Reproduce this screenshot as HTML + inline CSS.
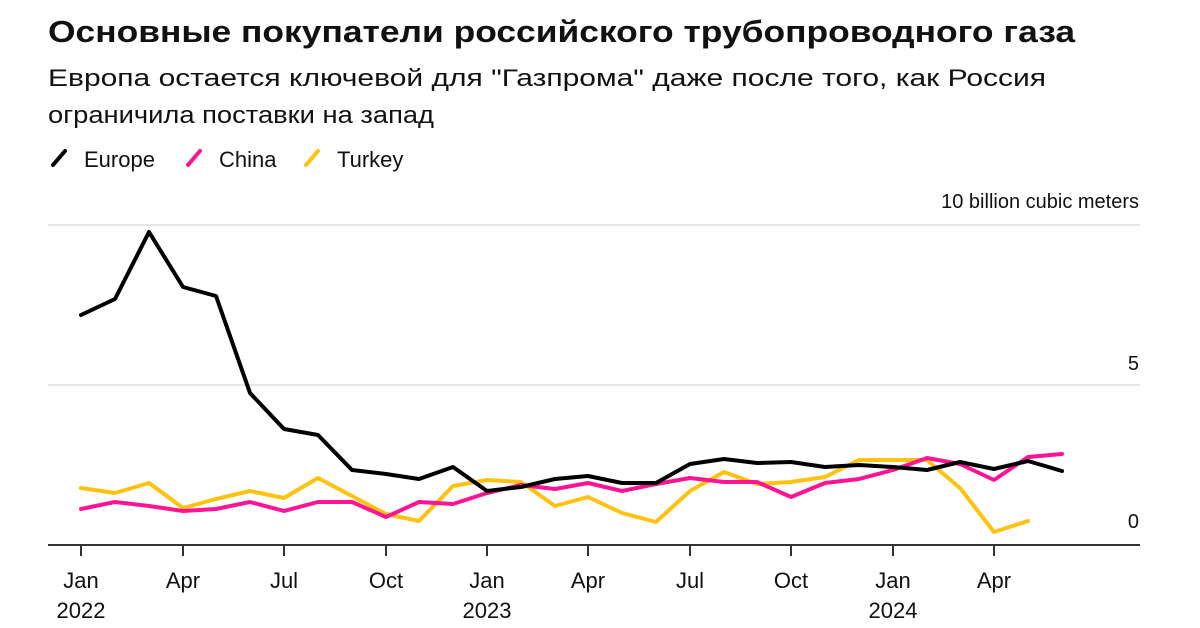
<!DOCTYPE html>
<html><head><meta charset="utf-8"><style>
html,body{margin:0;padding:0;background:#fff;width:1200px;height:628px;overflow:hidden}
svg text{font-family:"Liberation Sans",Arial,sans-serif;fill:#111}
</style></head><body>
<svg width="1200" height="628" viewBox="0 0 1200 628" xmlns="http://www.w3.org/2000/svg">
<text x="48" y="42" font-size="31" font-weight="bold" textLength="1027" lengthAdjust="spacingAndGlyphs">Основные покупатели российского трубопроводного газа</text>
<text x="48" y="86" font-size="24" fill="#222" textLength="998" lengthAdjust="spacingAndGlyphs">Европа остается ключевой для "Газпрома" даже после того, как Россия</text>
<text x="48" y="123" font-size="24" textLength="386" lengthAdjust="spacingAndGlyphs">ограничила поставки на запад</text>
<g stroke-width="4" stroke-linecap="round">
<line x1="53" y1="165" x2="65" y2="151" stroke="#000"/>
<line x1="188" y1="165" x2="200" y2="151" stroke="#ff1493"/>
<line x1="306" y1="165" x2="318" y2="151" stroke="#ffc20e"/>
</g>
<text x="84" y="167" font-size="22">Europe</text>
<text x="219" y="167" font-size="22">China</text>
<text x="337" y="167" font-size="22">Turkey</text>
<text x="1139" y="208" font-size="20" text-anchor="end">10 billion cubic meters</text>
<line x1="48" y1="225" x2="1140" y2="225" stroke="#ccc" stroke-width="1"/>
<line x1="48" y1="385" x2="1140" y2="385" stroke="#ccc" stroke-width="1"/>
<text x="1139" y="370" font-size="20" text-anchor="end">5</text>
<text x="1139" y="528" font-size="20" text-anchor="end">0</text>
<line x1="48" y1="545" x2="1140" y2="545" stroke="#333" stroke-width="2"/>
<g stroke="#333" stroke-width="2">
<line x1="81" y1="545" x2="81" y2="556"/><line x1="183" y1="545" x2="183" y2="556"/><line x1="284" y1="545" x2="284" y2="556"/><line x1="386" y1="545" x2="386" y2="556"/>
<line x1="487" y1="545" x2="487" y2="556"/><line x1="588" y1="545" x2="588" y2="556"/><line x1="690" y1="545" x2="690" y2="556"/><line x1="791" y1="545" x2="791" y2="556"/>
<line x1="893" y1="545" x2="893" y2="556"/><line x1="994" y1="545" x2="994" y2="556"/>
</g>
<g font-size="22" text-anchor="middle">
<text x="81" y="588">Jan</text><text x="183" y="588">Apr</text><text x="284" y="588">Jul</text><text x="386" y="588">Oct</text>
<text x="487" y="588">Jan</text><text x="588" y="588">Apr</text><text x="690" y="588">Jul</text><text x="791" y="588">Oct</text>
<text x="893" y="588">Jan</text><text x="994" y="588">Apr</text>
<text x="81" y="618">2022</text><text x="487" y="618">2023</text><text x="893" y="618">2024</text>
</g>
<g fill="none" stroke-width="4" stroke-linejoin="round" stroke-linecap="round">
<polyline stroke="#ffc20e" points="81,488 115,493 149,483 183,508 216,499 250,491 284,498 318,478 352,496 386,514 419,521 453,486 487,480 521,482 555,506 588,497 622,513 656,522 690,491 724,472 757,484 791,482 825,477 859,460 893,460 927,460 960,488 994,532 1028,521"/>
<polyline stroke="#ff1493" points="81,509 115,502 149,506 183,511 216,509 250,502 284,511 318,502 352,502 386,517 419,502 453,504 487,493 521,485 555,489 588,483 622,491 656,484 690,478 724,482 757,482 791,497 825,483 859,479 893,470 927,458 960,464 994,480 1028,457 1062,454"/>
<polyline stroke="#000" points="81,315 115,299 149,232 183,287 216,296 250,393 284,429 318,435 352,470 386,474 419,479 453,467 487,491 521,487 555,479 588,476 622,483 656,483 690,464 724,459 757,463 791,462 825,467 859,465 893,467 927,470 960,462 994,469 1028,461 1062,471"/>
</g>
</svg>
</body></html>
